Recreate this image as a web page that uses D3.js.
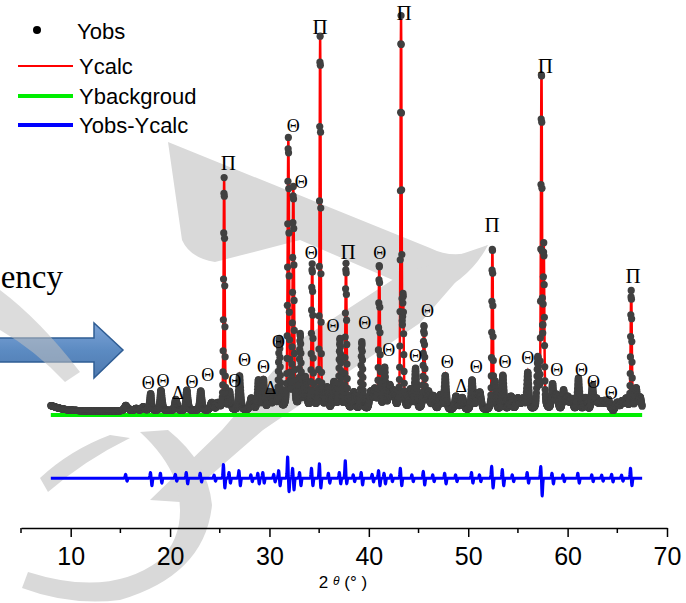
<!DOCTYPE html>
<html>
<head>
<meta charset="utf-8">
<style>
body { margin: 0; background: #fff; }
svg text { font-family: "Liberation Sans", Arial, sans-serif; }
.phase { font-family: "Liberation Serif", "Times New Roman", serif; fill: #000; text-anchor: middle; dominant-baseline: central; }
.axis path, .axis line { stroke: #000; stroke-width: 1.5px; }
</style>
<title></title>
</head>
<body>
<script src="https://d3js.org/d3.v7.min.js"></script>
<script>

// reflections: 2theta, height above background, fwhm
var peakPos    = [7.0, 15.6, 16.6, 17.3, 18.05, 19.1, 20.6, 21.7, 23.1, 24.2, 24.8, 25.44, 26.0, 27.0, 28.2, 28.9, 29.4, 30.0, 30.5, 31.0, 31.9, 32.4, 33.1, 33.6, 34.3, 35.1, 35.8, 36.5, 37.1, 37.7, 38.5, 39.3, 40.2, 40.6, 41.05, 41.6, 42.1, 42.5, 43.24, 43.45, 44.2, 44.7, 45.55, 46.0, 46.5, 47.2, 47.7, 48.8, 49.4, 50.4, 50.9, 51.2, 52.43, 52.7, 53.5, 54.3, 55.0, 55.5, 56.0, 57.0, 57.37, 57.6, 58.5, 58.9, 59.6, 60.0, 60.4, 61.1, 61.8, 62.5, 62.9, 63.3, 63.7, 64.1, 65.0, 65.5, 65.9, 66.4, 66.9, 67.3];
var peakHeight = [200, 120, 60, 100, 400, 520, 280, 520, 500, 200, 180, 5950, 450, 880, 300, 760, 760, 450, 400, 1800, 6900, 5650, 1900, 800, 3700, 9550, 550, 700, 1800, 3700, 450, 1750, 450, 500, 3700, 1050, 600, 450, 10000, 2600, 500, 1050, 2150, 450, 350, 380, 880, 350, 320, 760, 380, 400, 4150, 650, 880, 350, 300, 280, 950, 1250, 8600, 4000, 650, 380, 500, 330, 280, 820, 320, 620, 280, 200, 230, 260, 200, 220, 280, 3050, 550, 330];
var peakWidth  = [3.0, 0.45, 0.4, 0.35, 0.25, 0.25, 0.3, 0.25, 0.25, 0.35, 0.35, 0.13, 0.25, 0.25, 0.35, 0.25, 0.25, 0.3, 0.3, 0.2, 0.16, 0.16, 0.2, 0.3, 0.16, 0.13, 0.3, 0.3, 0.22, 0.15, 0.3, 0.2, 0.3, 0.3, 0.15, 0.22, 0.3, 0.3, 0.13, 0.13, 0.3, 0.25, 0.18, 0.3, 0.3, 0.3, 0.25, 0.35, 0.35, 0.25, 0.3, 0.3, 0.13, 0.2, 0.25, 0.35, 0.35, 0.35, 0.25, 0.2, 0.13, 0.13, 0.25, 0.3, 0.25, 0.3, 0.3, 0.25, 0.3, 0.25, 0.3, 0.35, 0.35, 0.3, 0.35, 0.35, 0.3, 0.14, 0.25, 0.3];
var hump = 100;     // amorphous level above background

// misfit spikes of Yobs-Ycalc: 2theta, upward lobe, downward lobe
var diffPos  = [15.6, 18.1, 19.1, 20.6, 21.7, 23.1, 24.5, 25.44, 26.0, 27.0, 28.2, 28.9, 29.4, 30.5, 31.0, 31.9, 32.4, 33.1, 34.3, 35.1, 36.0, 37.1, 37.7, 38.5, 39.3, 40.4, 41.05, 41.6, 42.3, 43.24, 44.4, 45.55, 46.5, 47.7, 48.8, 50.4, 51.2, 52.43, 53.5, 54.5, 56.0, 57.37, 58.5, 59.6, 61.1, 62.5, 63.5, 64.5, 65.5, 66.4];
var diffUp   = [100, 150, 130, 100, 150, 130, 80, 360, 150, 200, 90, 130, 150, 100, 200, 560, 260, 150, 260, 380, 130, 150, 460, 90, 150, 100, 200, 130, 90, 260, 90, 180, 90, 130, 90, 150, 90, 310, 230, 90, 150, 310, 130, 90, 130, 90, 80, 100, 80, 260];
var diffDown = [80, 200, 130, 80, 150, 100, 80, 260, 130, 200, 90, 150, 130, 100, 200, 360, 310, 200, 200, 260, 130, 150, 150, 90, 180, 100, 200, 150, 90, 200, 90, 180, 90, 150, 90, 130, 90, 260, 200, 90, 130, 460, 150, 90, 130, 90, 80, 100, 80, 200];
var diffOffset = -1620;

var xStart = 8.0, xEnd = 67.5, xStep = 0.02;
var xTicks = [10, 20, 30, 40, 50, 60, 70];
var xMinor = [5, 15, 25, 35, 45, 55, 65];

// phase markers: symbol, 2theta, intensity level of label centre
var markText = ["Π", "Π", "Π", "Π", "Π", "Π", "Π",
  "Θ", "Θ", "Θ", "Θ", "Θ", "Θ", "Θ", "Θ", "Θ", "Θ", "Θ", "Θ", "Θ", "Θ", "Θ", "Θ", "Θ",
  "Θ", "Θ", "Θ", "Θ", "Θ", "Θ", "Θ", "Θ",
  "Δ", "Δ", "Δ"];
var markX = [25.85, 35.1, 43.55, 37.9, 52.4, 57.75, 66.6,
  32.4, 33.2, 34.2, 41.1, 36.4, 39.6, 42.0, 44.7, 45.9, 47.9, 50.8, 53.7, 56.0, 58.9, 61.4, 62.6, 64.4,
  17.8, 19.3, 22.2, 23.8, 26.5, 27.5, 29.4, 30.9,
  20.8, 30.1, 49.3];
var markY = [6460, 9950, 10300, 4180, 4870, 8950, 3560,
  7410, 5970, 4150, 4150, 2280, 2360, 1670, 1510, 2670, 1360, 1230, 1360, 1460, 1150, 1150, 850, 560,
  820, 870, 850, 1030, 870, 1410, 1230, 1870,
  560, 690, 740];

var legendNames = ["Yobs", "Ycalc", "Ybackgroud", "Yobs-Ycalc"];
var legendColors = ["#000", "#ff0000", "#00ee00", "#0000ff"];

var width = 686, height = 603;

var x = d3.scaleLinear().domain([5, 70]).range([21, 667]);
var y = d3.scaleLinear().domain([0, 10000]).range([415, 25]);

function profile(t) {
  var s = hump;
  for (var i = 0; i < peakPos.length; i++) {
    var u = (t - peakPos[i]) / peakWidth[i];
    var g = Math.exp(-4 * Math.LN2 * u * u);
    var l = 1 / (1 + 4 * u * u);
    s += peakHeight[i] * (0.55 * g + 0.45 * l);
  }
  return s;
}

function misfit(t) {
  var s = 0;
  for (var i = 0; i < diffPos.length; i++) {
    var a = (t - diffPos[i] + 0.07) / 0.07;
    var b = (t - diffPos[i] - 0.07) / 0.07;
    s += diffUp[i] * Math.exp(-a * a) - diffDown[i] * Math.exp(-b * b);
  }
  return s;
}

var pts = d3.range(xStart, xEnd + 1e-9, xStep).map(function(t) {
  return {t: t, calc: profile(t), diff: misfit(t)};
});

var svg = d3.select("body").append("svg")
    .attr("width", width)
    .attr("height", height);

// watermark strokes lying behind the plot
var wm = svg.append("g").attr("fill", "#d9d9d9").attr("stroke", "none");
wm.append("path").attr("d", "M168,142 L205,157 L430,248 Q458,262 488,245 Q470,280 430,296 L300,240 L215,262 Q190,258 182,240 Z");
wm.append("path").attr("d", "M488,245 L420,323 L263,430 L180,502 L150,500 L222,430 L300,340 L400,275 Z");
wm.append("path").attr("d", "M28,572 Q110,598 160,560 Q190,530 175,480 Q165,455 140,432 L168,430 Q208,462 212,505 Q205,575 120,600 Q70,606 22,588 Z");
wm.append("path").attr("d", "M40,478 Q70,450 110,435 L130,438 Q85,460 48,492 Z");

// "...ency" slide text and arrow cut by the frame
svg.append("text")
    .attr("x", 63).attr("y", 288)
    .attr("text-anchor", "end")
    .style("font-family", "'Liberation Serif', 'Times New Roman', serif")
    .style("font-size", "33px")
    .text("ency");

var grad = svg.append("defs").append("linearGradient")
    .attr("id", "arrowFill").attr("x1", 0).attr("y1", 0).attr("x2", 0).attr("y2", 1);
grad.append("stop").attr("offset", "0%").attr("stop-color", "#6f9ad3");
grad.append("stop").attr("offset", "50%").attr("stop-color", "#4a7ebb");
grad.append("stop").attr("offset", "100%").attr("stop-color", "#3b6aa6");

svg.append("path")
    .attr("d", "M-5,338 L94,338 L94,323 L123,350 L94,378 L94,362 L-5,362 Z")
    .attr("fill", "url(#arrowFill)")
    .attr("fill-opacity", 0.9)
    .attr("stroke", "#2f5d94")
    .attr("stroke-width", 1.5);

// translucent band of the watermark over the arrow
svg.append("path")
    .attr("d", "M0,290 Q40,320 80,372 L65,382 Q35,350 0,330 Z")
    .attr("fill", "#bfbfbf")
    .attr("fill-opacity", 0.55);

// background
svg.append("line")
    .attr("x1", x(xStart)).attr("x2", x(xEnd))
    .attr("y1", y(0)).attr("y2", y(0))
    .attr("stroke", "#00ee00")
    .attr("stroke-width", 4);

// calculated pattern
svg.append("path")
    .datum(pts)
    .attr("fill", "none")
    .attr("stroke", "#ff0000")
    .attr("stroke-width", 2.5)
    .attr("d", d3.line().x(function(d) { return x(d.t); }).y(function(d) { return y(d.calc); }));

// observed points
svg.append("g")
    .selectAll("circle")
    .data(pts)
    .enter().append("circle")
    .attr("cx", function(d) { return x(d.t); })
    .attr("cy", function(d) { return y(d.calc + d.diff * 0.3); })
    .attr("r", 3.6)
    .attr("fill", "#404040");

// difference
svg.append("path")
    .datum(pts)
    .attr("fill", "none")
    .attr("stroke", "#0000ff")
    .attr("stroke-width", 3)
    .attr("stroke-linejoin", "round")
    .attr("d", d3.line().x(function(d) { return x(d.t); }).y(function(d) { return y(diffOffset + d.diff); }));

// phase markers
svg.append("g")
    .selectAll("text")
    .data(markText)
    .enter().append("text")
    .attr("class", "phase")
    .attr("x", function(d, i) { return x(markX[i]); })
    .attr("y", function(d, i) { return y(markY[i]); })
    .style("font-size", function(d) { return d == "Π" ? "21px" : "18px"; })
    .text(function(d) { return d; });

// x axis
var axisY = 528;
var gx = svg.append("g")
    .attr("class", "axis")
    .attr("transform", "translate(0," + axisY + ")")
    .call(d3.axisBottom(x).tickValues(xTicks).tickSize(9).tickSizeOuter(0).tickPadding(10));
gx.selectAll("text")
    .style("font-size", "25px")
    .style("font-family", "'Liberation Sans', Arial, sans-serif")
    .attr("fill", "#000");
gx.selectAll(".minor")
    .data(xMinor)
    .enter().append("line")
    .attr("class", "minor")
    .attr("x1", function(d) { return x(d); })
    .attr("x2", function(d) { return x(d); })
    .attr("y1", 0).attr("y2", 5)
    .attr("stroke", "#000").attr("stroke-width", 1.5);

var xl = svg.append("text")
    .attr("x", 343).attr("y", 588)
    .attr("text-anchor", "middle")
    .style("font-size", "17px");
xl.append("tspan").text("2 ");
xl.append("tspan").style("font-style", "italic").style("font-size", "12px").attr("dy", -3).text("θ");
xl.append("tspan").attr("dy", 3).text(" (° )");

// legend
var leg = svg.append("g");
leg.append("circle").attr("cx", 37).attr("cy", 30).attr("r", 4).attr("fill", "#000");
var legY = [31, 66, 96, 125];
legendNames.forEach(function(name, i) {
  if (i > 0) {
    leg.append("line")
        .attr("x1", 18).attr("x2", 73)
        .attr("y1", legY[i]).attr("y2", legY[i])
        .attr("stroke", legendColors[i])
        .attr("stroke-width", i == 1 ? 2 : 4);
  }
  leg.append("text")
      .attr("x", i == 0 ? 77 : 79)
      .attr("y", legY[i] + 8)
      .style("font-size", "22px")
      .text(name);
});

</script>
</body>
</html>
